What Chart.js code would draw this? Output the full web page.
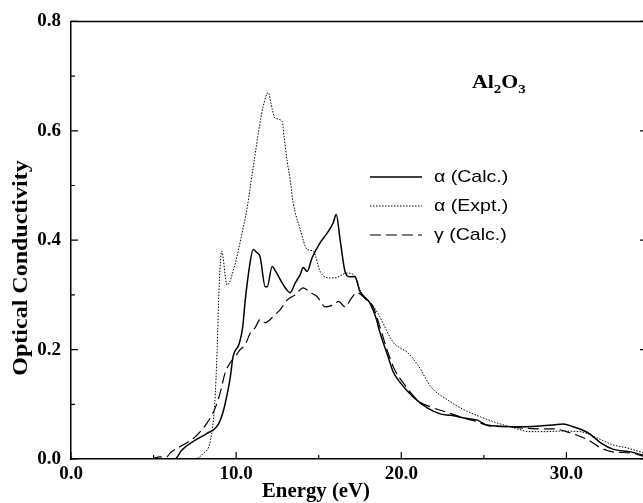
<!DOCTYPE html>
<html>
<head>
<meta charset="utf-8">
<script src="https://cdn.jsdelivr.net/npm/chart.js@4/dist/chart.umd.min.js"></script>
<style>
  html, body { margin: 0; padding: 0; overflow: hidden; background: #fff; }
  #wrap { width: 652px; height: 503px; }
</style>
</head>
<body>
<div id="wrap"><canvas id="myChart" width="652" height="503"></canvas></div>
<script>
// valores (energia en eV, conductividad)
const calcE = [0, 6.3, 6.7, 7.4, 8.24, 8.85, 9.2, 9.5, 9.65, 9.8, 10.2, 10.4, 10.55, 10.8, 11.03, 11.27, 11.45, 11.76, 11.88, 12.18, 12.36, 12.67, 12.97, 13.27, 13.58, 13.88, 14.06, 14.3, 14.6, 15.1, 15.58, 15.88, 16.06, 16.3, 16.6, 16.9, 17.2, 17.5, 18.1, 18.5, 18.7, 19.2, 19.5, 19.9, 20.7, 21.6, 22.4, 23.0, 23.8, 24.6, 25.2, 26.0, 27.2, 28.2, 29.2, 29.8, 30.4, 31.3, 32.1, 32.8, 33.9, 35];
const calcSigma = [0, 0, 0.016, 0.032, 0.047, 0.06, 0.085, 0.125, 0.15, 0.185, 0.212, 0.242, 0.29, 0.35, 0.383, 0.377, 0.37, 0.315, 0.315, 0.352, 0.345, 0.328, 0.313, 0.304, 0.322, 0.337, 0.35, 0.343, 0.368, 0.396, 0.416, 0.432, 0.447, 0.40, 0.342, 0.333, 0.333, 0.306, 0.285, 0.255, 0.232, 0.187, 0.16, 0.141, 0.114, 0.093, 0.082, 0.08, 0.075, 0.071, 0.062, 0.06, 0.059, 0.06, 0.062, 0.064, 0.059, 0.048, 0.029, 0.018, 0.013, 0.004];

const exptE = [0, 7.4, 8.0, 8.45, 8.7, 8.85, 8.95, 9.05, 9.12, 9.45, 9.95, 10.3, 10.67, 11.03, 11.45, 11.64, 11.94, 12.18, 12.36, 12.79, 12.9, 13.1, 13.27, 13.45, 13.88, 14.3, 14.67, 15.1, 15.7, 16.1, 16.7, 17.1, 17.5, 18.3, 18.7, 19.5, 20.4, 21.0, 21.8, 22.8, 23.8, 24.8, 25.8, 26.8, 27.8, 28.8, 29.6, 30.8, 31.9, 32.8, 33.7, 35];
const exptSigma = [0, 0, 0.01, 0.035, 0.1, 0.2, 0.3, 0.36, 0.38, 0.318, 0.358, 0.405, 0.46, 0.533, 0.615, 0.645, 0.67, 0.64, 0.623, 0.617, 0.59, 0.542, 0.511, 0.469, 0.42, 0.383, 0.38, 0.342, 0.331, 0.332, 0.34, 0.337, 0.309, 0.28, 0.26, 0.214, 0.194, 0.172, 0.132, 0.108, 0.09, 0.077, 0.066, 0.057, 0.05, 0.05, 0.051, 0.05, 0.038, 0.026, 0.02, 0.008];

const gammaE = [0, 4.8, 5.4, 5.8, 6.0, 6.8, 7.5, 8.24, 8.73, 9.03, 9.33, 9.64, 9.94, 10.24, 10.55, 10.85, 11.15, 11.45, 11.76, 12.06, 12.36, 12.67, 13.1, 13.58, 14.06, 14.5, 14.9, 15.4, 15.9, 16.2, 16.6, 17.0, 17.3, 17.9, 18.3, 18.7, 19.2, 19.6, 20.1, 21.0, 21.8, 22.8, 23.8, 24.6, 25.4, 26.4, 27.2, 28.2, 29.2, 30.2, 31.3, 32.1, 32.8, 33.9, 35];
const gammaSigma = [0, 0, 0.004, 0.004, 0.011, 0.026, 0.04, 0.066, 0.093, 0.121, 0.157, 0.176, 0.187, 0.2, 0.209, 0.23, 0.24, 0.255, 0.249, 0.255, 0.264, 0.273, 0.291, 0.30, 0.313, 0.304, 0.297, 0.278, 0.282, 0.288, 0.278, 0.295, 0.304, 0.291, 0.278, 0.242, 0.194, 0.163, 0.14, 0.107, 0.095, 0.085, 0.075, 0.068, 0.06, 0.059, 0.057, 0.055, 0.055, 0.048, 0.035, 0.02, 0.013, 0.011, 0.002];

const xTicks = [0, 10, 20, 30];
const xMinor = [5, 15, 25];
const yTicks = [0, 0.2, 0.4, 0.6, 0.8];
const yMinor = [0.1, 0.3, 0.5, 0.7];
const legendLabels = ['\u03b1 (Calc.)', '\u03b1 (Expt.)', '\u03b3 (Calc.)'];
const xTitle = 'Energy (eV)';
const yTitle = 'Optical Conductivity';

const serif = "'Liberation Serif', 'Times New Roman', serif";
const sans = "'Liberation Sans', Arial, sans-serif";

const toPoints = (xs, ys) => xs.map((x, i) => ({ x: x, y: ys[i] }));

// marco y marcas de eje hacia adentro
const framePlugin = {
    id: 'frame',
    afterDraw(chart) {
        const { ctx, chartArea: a, scales: { x, y } } = chart;
        ctx.save();
        ctx.strokeStyle = '#000';
        ctx.lineWidth = 1.5;
        ctx.beginPath();
        ctx.moveTo(a.left, a.top);
        ctx.lineTo(a.right, a.top);
        ctx.lineTo(a.right, a.bottom);
        ctx.stroke();

        ctx.lineWidth = 1.2;
        ctx.beginPath();
        yTicks.forEach(v => {
            const p = y.getPixelForValue(v);
            ctx.moveTo(a.left, p); ctx.lineTo(a.left + 7, p);
            ctx.moveTo(a.right, p); ctx.lineTo(a.right - 9, p);
        });
        yMinor.forEach(v => {
            const p = y.getPixelForValue(v);
            ctx.moveTo(a.left, p); ctx.lineTo(a.left + 4, p);
        });
        xTicks.forEach(v => {
            const p = x.getPixelForValue(v);
            ctx.moveTo(p, a.bottom); ctx.lineTo(p, a.bottom - 7);
        });
        xMinor.forEach(v => {
            const p = x.getPixelForValue(v);
            ctx.moveTo(p, a.bottom); ctx.lineTo(p, a.bottom - 4);
        });
        ctx.stroke();
        ctx.restore();
    }
};

// leyenda, titulos de eje y etiqueta Al2O3
const labelPlugin = {
    id: 'labels',
    afterDatasetsDraw(chart) {
        const ctx = chart.ctx;
        ctx.save();
        chart.data.datasets.forEach((ds, i) => {
            const ly = 177 + i * 29;
            ctx.strokeStyle = ds.borderColor;
            ctx.lineWidth = ds.borderWidth;
            ctx.setLineDash(ds.borderDash || []);
            ctx.beginPath();
            ctx.moveTo(370, ly);
            ctx.lineTo(422, ly);
            ctx.stroke();
            ctx.setLineDash([]);
            ctx.fillStyle = '#000';
            ctx.font = '17px ' + sans;
            ctx.textBaseline = 'middle';
            ctx.save();
            ctx.translate(434, ly);
            ctx.scale(1.15, 1);
            ctx.fillText(legendLabels[i], 0, 0);
            ctx.restore();
        });

        // titulos de los ejes
        ctx.fillStyle = '#000';
        ctx.textAlign = 'center';
        ctx.textBaseline = 'middle';
        ctx.font = 'bold 20px ' + serif;
        ctx.save();
        ctx.translate(316, 492);
        ctx.scale(1.04, 1);
        ctx.fillText(xTitle, 0, 0);
        ctx.restore();

        ctx.save();
        ctx.translate(22, 268);
        ctx.rotate(-Math.PI / 2);
        ctx.scale(1.2, 1);
        ctx.fillText(yTitle, 0, 0);
        ctx.restore();

        // Al2O3 con subindices
        ctx.textAlign = 'left';
        ctx.textBaseline = 'alphabetic';
        ctx.save();
        ctx.translate(472, 88);
        ctx.scale(1.15, 1);
        let cx = 0;
        const parts = [['Al', 0, 19], ['2', 5, 13], ['O', 0, 19], ['3', 5, 13]];
        parts.forEach(([t, dy, size]) => {
            ctx.font = 'bold ' + size + 'px ' + serif;
            ctx.fillText(t, cx, dy);
            cx += ctx.measureText(t).width;
        });
        ctx.restore();
        ctx.restore();
    }
};

const ctx = document.getElementById('myChart');

new Chart(ctx, {
    type: 'line',
    data: {
        datasets: [{
            label: legendLabels[0],
            data: toPoints(calcE, calcSigma),
            borderColor: '#000',
            borderWidth: 1.5
        }, {
            label: legendLabels[1],
            data: toPoints(exptE, exptSigma),
            borderColor: '#000',
            borderWidth: 1,
            borderDash: [1.5, 1.5]
        }, {
            label: legendLabels[2],
            data: toPoints(gammaE, gammaSigma),
            borderColor: '#000',
            borderWidth: 1.2,
            borderDash: [11, 5]
        }]
    },
    options: {
        responsive: false,
        animation: false,
        events: [],
        layout: { padding: { top: 21, right: 3, left: 0, bottom: 0 } },
        plugins: { legend: { display: false }, tooltip: { enabled: false } },
        elements: {
            point: { radius: 0 },
            line: { tension: 0.3, cubicInterpolationMode: 'monotone' }
        },
        scales: {
            x: {
                type: 'linear',
                min: 0,
                max: 35,
                afterBuildTicks: s => { s.ticks = xTicks.map(v => ({ value: v })); },
                afterFit: s => { s.height = 44; },
                grid: { display: false, drawTicks: false },
                border: { color: '#000', width: 1.5 },
                ticks: {
                    color: '#000',
                    padding: 4,
                    maxRotation: 0,
                    font: { family: serif, size: 19, weight: 'bold' },
                    callback: v => v.toFixed(1)
                },
                title: { display: false }
            },
            y: {
                type: 'linear',
                min: 0,
                max: 0.8,
                afterBuildTicks: s => { s.ticks = yTicks.map(v => ({ value: v })); },
                afterFit: s => { s.width = 71; },
                grid: { display: false, drawTicks: false },
                border: { color: '#000', width: 1.5 },
                ticks: {
                    color: '#000',
                    padding: 10,
                    font: { family: serif, size: 19, weight: 'bold' },
                    callback: v => v.toFixed(1)
                },
                title: { display: false }
            }
        }
    },
    plugins: [framePlugin, labelPlugin]
});
</script>
</body>
</html>
